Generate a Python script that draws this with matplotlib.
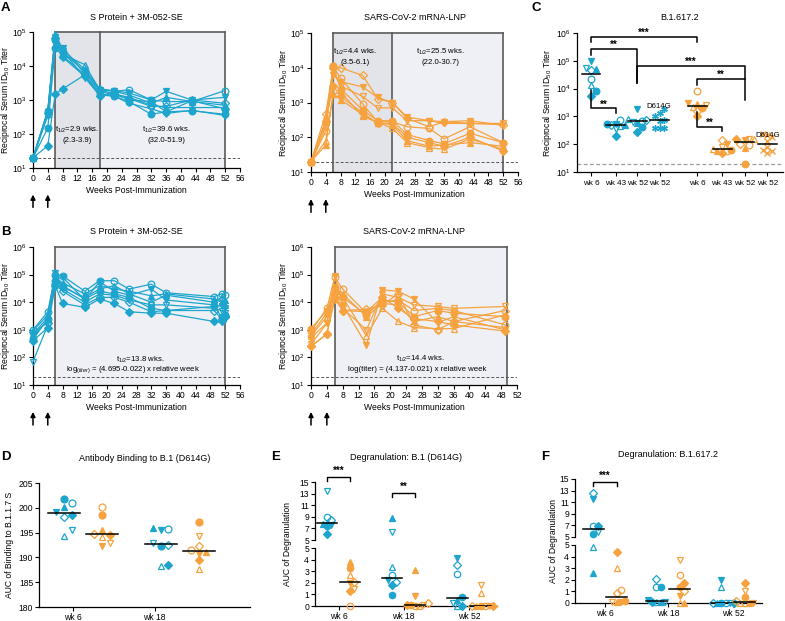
import numpy as np
import matplotlib
matplotlib.use("Agg")
import matplotlib.pyplot as plt
from matplotlib.ticker import NullLocator

plt.rcParams['font.family'] = ['Liberation Sans', 'DejaVu Sans']
plt.rcParams['mathtext.fontset'] = 'custom'
plt.rcParams['mathtext.rm'] = 'Liberation Sans'
plt.rcParams['mathtext.it'] = 'Liberation Sans:italic'
plt.rcParams['mathtext.bf'] = 'Liberation Sans:bold'

BLUE = '#1DA5CE'
ORANGE = '#F6A23F'
W, H = 785, 621
FS = 6.2

# animal symbols, same order in every list below: ● ○ ▲ △ ▼ ▽ ◆ ◇
MARKERS = ['o', 'o', '^', '^', 'v', 'v', 'D', 'D']
FILLED = [True, False, True, False, True, False, True, False]

# ---- A: ID50 titers, first series ----
A_WEEKS = [0, 4, 6, 8, 14, 18, 22, 26, 32, 36, 43, 52]
A_PROTEIN = [
    [20, 150, 35000, 20000, 5500, 1500, 1300, 900, 380, 450, 480, 380],
    [20, 480, 60000, 25000, 7000, 2000, 1800, 2000, 1000, 900, 900, 1900],
    [20, 500, 90000, 30000, 8000, 2200, 1800, 1400, 800, 1200, 900, 700],
    [20, 400, 80000, 22000, 11000, 2000, 1500, 1200, 700, 600, 600, 600],
    [20, 450, 70000, 35000, 6000, 2000, 1900, 1600, 1000, 1800, 1000, 1200],
    [20, 350, 50000, 28000, 4500, 1400, 1300, 800, 550, 400, 500, 350],
    [20, 45, 1500, 2100, 5500, 1300, 1600, 1000, 900, 450, 950, 550],
    [20, 420, 65000, 18000, 5000, 1800, 1400, 1100, 650, 650, 1000, 800],
]
A_MRNA = [
    [20, 280, 11000, 2500, 600, 300, 300, 120, 80, 65, 130, 70],
    [20, 150, 11000, 5000, 900, 280, 280, 200, 180, 90, 200, 70],
    [20, 60, 1800, 1200, 450, 260, 230, 80, 55, 60, 70, 55],
    [20, 80, 1700, 2000, 400, 270, 180, 70, 50, 45, 90, 45],
    [20, 300, 6000, 4000, 2800, 1400, 1000, 380, 300, 280, 300, 220],
    [20, 200, 8000, 3000, 1500, 700, 700, 300, 300, 250, 250, 250],
    [20, 300, 3000, 1500, 500, 250, 250, 100, 70, 55, 100, 40],
    [20, 480, 10000, 10000, 6000, 1300, 1000, 350, 200, 280, 250, 230],
]

# ---- B: ID50 titers, second series ----
B_PROTEIN_WEEKS = [0, 4, 6, 8, 14, 18, 22, 26, 32, 36, 49, 51, 52]
B_PROTEIN = [
    [450, 2500, 60000, 40000, 13000, 25000, 20000, 15000, 6000, 5000, 7000, 3000, 3500],
    [1000, 4500, 100000, 90000, 25000, 60000, 60000, 30000, 45000, 22000, 16000, 20000, 18000],
    [900, 3500, 80000, 50000, 20000, 40000, 30000, 25000, 17000, 20000, 13000, 10000, 12000],
    [700, 2800, 120000, 35000, 15000, 30000, 40000, 20000, 10000, 18000, 10000, 15000, 8000],
    [600, 2200, 70000, 80000, 12000, 55000, 25000, 18000, 30000, 12000, 8000, 7000, 6000],
    [70, 1500, 110000, 30000, 10000, 20000, 18000, 12000, 8000, 8000, 6000, 5000, 4000],
    [400, 1200, 40000, 9000, 6500, 13000, 9000, 4500, 4000, 4000, 2000, 2000, 3200],
    [800, 1800, 45000, 25000, 8000, 15000, 15000, 10000, 4500, 5000, 5000, 2500, 3000],
]
B_MRNA_WEEKS = [0, 4, 6, 8, 14, 18, 22, 26, 32, 36, 49]
B_MRNA = [
    [1100, 5000, 35000, 15000, 3500, 12000, 10000, 3000, 5000, 4000, 3000],
    [900, 6000, 80000, 30000, 4000, 10000, 12000, 5000, 6000, 5000, 1500],
    [700, 4000, 30000, 20000, 3000, 9000, 8000, 2000, 3000, 2000, 1200],
    [600, 3000, 25000, 15000, 600, 6000, 2000, 1200, 1100, 1100, 3500],
    [500, 1800, 90000, 8000, 280, 28000, 25000, 13000, 1800, 3000, 1000],
    [300, 1700, 20000, 6000, 1000, 20000, 15000, 8000, 7000, 6000, 7000],
    [250, 700, 15000, 5000, 4500, 15000, 6000, 2500, 2000, 1500, 900],
    [250, 700, 13000, 5000, 5500, 8000, 20000, 1500, 1000, 2000, 5000],
]

# ---- C: B.1.617.2 neutralization ----
C_LABELS = ['wk 6', 'wk 43', 'wk 52', 'wk 52', 'wk 6', 'wk 43', 'wk 52', 'wk 52']
C_GROUPS = [
    [8500, 23000, 50000, 14000, 95000, 55000, 5500, 45000],
    [550, 750, 500, 450, 550, 350, 200, 480],
    [430, 700, 600, 800, 1900, 650, 280, 750],
    [1900, 1300, 1000, 750, 700, 380, 380, 380],
    [2000, 8000, 2800, 2200, 3000, 2500, 1000, 1600],
    [60, 55, 58, 70, 100, 80, 50, 140],
    [20, 95, 75, 150, 140, 160, 150, 100],
    [240, 220, 180, 130, 80, 60, 55, 50],
]

# ---- D: binding AUC ----
D_LABELS = ['wk 6', 'wk 18']
D_GROUPS = [
    [201.8, 200.9, 200.1, 194.4, 199.2, 195.5, 198.6, 198.1],
    [198.5, 200.1, 195.5, 194.2, 192.3, 193.0, 194.5, 194.8],
    [192.3, 195.7, 196.0, 188.3, 195.5, 193.0, 188.4, 192.6],
    [197.2, 191.4, 191.0, 187.7, 190.7, 194.4, 189.4, 192.2],
]

# ---- E / F: degranulation AUC ----
WK_LABELS = ['wk 6', 'wk 18', 'wk 52']
E_GROUPS = [
    [7.5, 9.0, 7.8, 8.0, 7.6, 13.5, 6.0, 8.4],
    [3.3, 0.0, 3.8, 2.7, 2.0, 1.5, 1.3, 2.1],
    [0.95, 2.7, 8.8, 3.4, 2.2, 6.3, 1.8, 2.1],
    [0.1, 0.0, 3.1, 0.0, 0.9, 0.1, 0.1, 0.3],
    [0.8, 2.8, 0.5, 0.0, 4.1, 0.3, 0.0, 3.5],
    [0.0, 0.0, 0.0, 1.1, 0.0, 1.8, 0.0, 0.0],
]
F_GROUPS = [
    [5.6, 6.9, 2.6, 4.8, 11.6, 5.8, 6.9, 12.6],
    [0.2, 1.1, 0.1, 3.0, 0.1, 0.1, 4.4, 0.9],
    [1.4, 1.35, 0.1, 0.05, 0.3, 0.1, 0.1, 2.1],
    [1.4, 2.4, 0.0, 0.0, 0.6, 3.7, 1.7, 1.0],
    [0.0, 0.0, 0.0, 1.4, 2.0, 0.0, 0.0, 0.0],
    [0.5, 0.0, 0.0, 0.0, 0.0, 1.0, 1.7, 0.2],
]

fig = plt.figure(figsize=(W / 100, H / 100), dpi=100)


def px_axes(l, t, r, b):
    return fig.add_axes([l / W, 1 - b / H, (r - l) / W, (b - t) / H])


def style(ax):
    for s in ('top', 'right'):
        ax.spines[s].set_visible(False)
    for s in ('left', 'bottom'):
        ax.spines[s].set_linewidth(0.9)
    ax.tick_params(direction='out', length=3, width=0.8, labelsize=FS, pad=1.2)


def ylabel_at(ax, text, xpx, ycen=None):
    pos = ax.get_position()
    y = (pos.y0 + pos.y1) / 2 if ycen is None else 1 - ycen / H
    fig.text(xpx / W, y, text, rotation=90, fontsize=FS, ha='center', va='center')


def log_ticks(ax, top):
    ks = range(1, top + 1)
    ax.set_yticks([10.0 ** k for k in ks])
    ax.set_yticklabels([f'$10^{{{k}}}$' for k in ks])
    ax.yaxis.set_minor_locator(NullLocator())


def mstyle(i, color, ms):
    size = ms * 0.8 if MARKERS[i] == 'D' else ms
    return dict(marker=MARKERS[i], ms=size, mec=color, mew=0.9,
                mfc=color if FILLED[i] else 'none')


def letter(x, y, s):
    fig.text(x / W, 1 - y / H, s, fontsize=9.5, fontweight='bold', va='center', ha='left')


def titer_panel(ax, weeks, series, color, xmax, top, spans, ytop_rect, title, ylab_x):
    style(ax)
    ax.set_yscale('log')
    ax.set_ylim(10, 10.0 ** top)
    ax.set_xlim(0, xmax)
    for x0, x1, fc in spans:
        ax.axvspan(x0, x1, ymax=np.log10(ytop_rect / 10) / (top - 1), color=fc, lw=0, zorder=0)
    edges = [spans[0][0]] + [s[1] for s in spans]
    for x in edges:
        ax.plot([x, x], [10, ytop_rect], color='#5a5a5a', lw=1.2, zorder=1, clip_on=False)
    ax.plot([edges[0], edges[-1]], [ytop_rect, ytop_rect], color='#5a5a5a', lw=1.2, zorder=1, clip_on=False)
    ax.axhline(20, color='#555555', lw=0.7, ls=(0, (3, 2)), zorder=1)
    for i, ys in enumerate(series):
        ax.plot(weeks, ys, color=color, lw=0.9, zorder=3, clip_on=False, **mstyle(i, color, 4.8))
    log_ticks(ax, top)
    ax.set_xticks(range(0, xmax + 1, 4))
    ax.set_title(title, fontsize=FS + 0.3, pad=9)
    ax.set_xlabel('Weeks Post-Immunization', fontsize=FS, labelpad=2)
    ylabel_at(ax, 'Reciprocal Serum ID$_{50}$ Titer', ylab_x)
    for x in (0, 4):
        ax.annotate('', xy=(x, -0.175), xytext=(x, -0.31), xycoords=('data', 'axes fraction'),
                    textcoords=('data', 'axes fraction'),
                    arrowprops=dict(arrowstyle='-|>', color='black', lw=1.1, mutation_scale=7))


def swarm(vals, step, thresh, maxp=2):
    """Column-scatter offsets: spread points that would sit on top of each other."""
    vals = np.asarray(vals, float)
    offs = np.zeros(len(vals))
    placed = []
    cands = [0]
    for k in range(1, maxp + 1):
        cands += [k, -k]
    for i in np.argsort(vals):
        best, best_gap = 0, -1.0
        for p in cands:
            gaps = [abs(vals[i] - vals[j]) for j, q in placed if abs(p - q) < 1]
            gap = min(gaps) if gaps else np.inf
            if gap >= thresh:
                best = p
                break
            if gap > best_gap:
                best, best_gap = p, gap
        placed.append((i, best))
        offs[i] = best * step
    return offs


def scatter_group(ax, x, vals, color, step, thresh, ms, tvals=None, marker=None, mwidth=0.4, maxp=2):
    tv = vals if tvals is None else tvals
    offs = swarm(tv, step, thresh, maxp)
    for i, v in enumerate(vals):
        if marker is None:
            ax.plot(x + offs[i], v, ls='none', zorder=3, clip_on=False, **mstyle(i, color, ms))
        else:
            ax.plot(x + offs[i], v, ls='none', marker=marker, ms=ms, mec=color, mew=1.0,
                    mfc=color, zorder=3, clip_on=False)
    med = np.median(vals)
    ax.plot([x - mwidth, x + mwidth], [med, med], color='black', lw=1.1, zorder=4)


def bracket(ax, x0, x1, y, d0, d1, text, ty):
    ax.plot([x0, x0, x1, x1], [d0, y, y, d1], color='black', lw=1.1, clip_on=False, zorder=5)
    ax.text((x0 + x1) / 2, ty, text, ha='center', va='center', fontsize=7, fontweight='bold')


# ---------------- A ----------------
axA1 = px_axes(33, 32, 240, 168)
titer_panel(axA1, A_WEEKS, A_PROTEIN, BLUE, 56, 5,
            [(6, 18, '#e2e4e9'), (18, 52, '#eef0f5')], 1e5, 'S Protein + 3M-052-SE', 6)
axA1.text(12, 10 ** 2.13, 't$_{1/2}$=2.9 wks.', ha='center', va='center', fontsize=5.6)
axA1.text(12, 10 ** 1.82, '(2.3-3.9)', ha='center', va='center', fontsize=5.6)
axA1.text(36, 10 ** 2.13, 't$_{1/2}$=39.6 wks.', ha='center', va='center', fontsize=5.6)
axA1.text(36, 10 ** 1.82, '(32.0-51.9)', ha='center', va='center', fontsize=5.6)

axA2 = px_axes(311, 33, 518, 172)
titer_panel(axA2, A_WEEKS, A_MRNA, ORANGE, 56, 5,
            [(6, 22, '#e2e4e9'), (22, 52, '#eef0f5')], 1e5, 'SARS-CoV-2 mRNA-LNP', 283)
axA2.text(12, 10 ** 4.45, 't$_{1/2}$=4.4 wks.', ha='center', va='center', fontsize=5.6)
axA2.text(12, 10 ** 4.14, '(3.5-6.1)', ha='center', va='center', fontsize=5.6)
axA2.text(35, 10 ** 4.45, 't$_{1/2}$=25.5 wks.', ha='center', va='center', fontsize=5.6)
axA2.text(35, 10 ** 4.14, '(22.0-30.7)', ha='center', va='center', fontsize=5.6)

# ---------------- B ----------------
axB1 = px_axes(33, 247, 240, 385)
titer_panel(axB1, B_PROTEIN_WEEKS, B_PROTEIN, BLUE, 56, 6,
            [(6, 52, '#eef0f5')], 1e6, 'S Protein + 3M-052-SE', 6)
axB1.text(29, 10 ** 1.92, 't$_{1/2}$=13.8 wks.', ha='center', va='center', fontsize=5.6)
axB1.text(27, 10 ** 1.57, 'log$_{(titer)}$ = (4.695-0.022) x relative week', ha='center', va='center', fontsize=5.6)

axB2 = px_axes(311, 247, 517, 385)
titer_panel(axB2, B_MRNA_WEEKS, B_MRNA, ORANGE, 52, 6,
            [(6, 49.5, '#eef0f5')], 1e6, 'SARS-CoV-2 mRNA-LNP', 283)
axB2.text(27.5, 10 ** 1.94, 't$_{1/2}$=14.4 wks.', ha='center', va='center', fontsize=5.6)
axB2.text(26.8, 10 ** 1.55, 'log(titer) = (4.137-0.021) x relative week', ha='center', va='center', fontsize=5.6)

# ---------------- C ----------------
axC = px_axes(577, 33, 783, 172)
style(axC)
axC.set_yscale('log')
axC.set_ylim(10, 1e6)
log_ticks(axC, 6)
c_pos = [0, 1.1, 2.05, 3.05, 4.7, 5.8, 6.8, 7.8]
axC.set_xlim(-0.62, 8.5)
axC.axhline(20, color='#9a9a9a', lw=0.9, ls=(0, (3, 2)), zorder=1)
for k, vals in enumerate(C_GROUPS):
    col = BLUE if k < 4 else ORANGE
    mk = None if k not in (3, 7) else ((6, 2, 0) if k == 3 else 'x')
    scatter_group(axC, c_pos[k], vals, col, 0.2, 0.2, 4.8, tvals=np.log10(vals),
                  marker=mk, mwidth=0.42, maxp=2)
axC.text(3.0, 1700, 'D614G', ha='center', va='bottom', fontsize=5.6)
axC.text(7.8, 150, 'D614G', ha='center', va='bottom', fontsize=5.6)
axC.set_xticks(c_pos)
axC.set_xticklabels(C_LABELS)
axC.tick_params(axis='x', labelsize=5.9, pad=3)
axC.set_title('B.1.617.2', fontsize=FS + 0.3, pad=9)
ylabel_at(axC, 'Reciprocal Serum ID$_{50}$ Titer', 547)
bracket(axC, c_pos[0], c_pos[4], 10 ** 5.86, 10 ** 5.66, 10 ** 5.66, '***', 10 ** 6.02)
bracket(axC, c_pos[0], c_pos[2], 10 ** 5.42, 10 ** 5.22, 10 ** 4.19, '**', 10 ** 5.56)
bracket(axC, c_pos[2], c_pos[6], 10 ** 4.83, 10 ** 4.19, 10 ** 3.59, '***', 10 ** 4.97)
bracket(axC, c_pos[4], c_pos[6], 10 ** 4.35, 10 ** 4.13, 10 ** 4.35, '**', 10 ** 4.49)
bracket(axC, c_pos[0], c_pos[1], 10 ** 3.29, 10 ** 3.95, 10 ** 3.13, '**', 10 ** 3.43)
bracket(axC, c_pos[4], c_pos[5], 10 ** 2.63, 10 ** 3.17, 10 ** 2.48, '**', 10 ** 2.77)

# ---------------- D ----------------
axD = px_axes(39, 483, 250, 607)
style(axD)
axD.set_ylim(180, 205)
axD.set_yticks(range(180, 206, 5))
d_pos = [0, 1, 2.55, 3.55]
axD.set_xlim(-0.66, 4.9)
for k, vals in enumerate(D_GROUPS):
    scatter_group(axD, d_pos[k], vals, BLUE if k % 2 == 0 else ORANGE, 0.2, 1.1, 5,
                  mwidth=0.42, maxp=2)
axD.set_xticks([0.24, 2.39])
axD.set_xticklabels(D_LABELS)
axD.set_title('Antibody Binding to B.1 (D614G)', fontsize=FS + 0.3, pad=16)
ylabel_at(axD, 'AUC of Binding to B.1.1.7 S', 10)


# ---------------- E / F ----------------
def degran_panel(l, r, tu, bu, tl, bl, groups, centers_px, title, brackets, ylab_x):
    up = px_axes(l, tu, r, bu)
    lo = px_axes(l, tl, r, bl)
    style(up)
    style(lo)
    up.spines['bottom'].set_visible(False)
    up.set_xticks([])
    up.set_ylim(5, 15)
    up.set_yticks(range(5, 16, 2))
    lo.set_ylim(0, 5)
    lo.set_yticks(range(0, 6))
    unit = 64.0
    c0 = centers_px[0]
    centers = [(c - c0) / unit for c in centers_px]
    xl = ((l - c0) / unit, (r - c0) / unit)
    up.set_xlim(*xl)
    lo.set_xlim(*xl)
    for k, vals in enumerate(groups):
        x = centers[k // 2] + (-0.18 if k % 2 == 0 else 0.18)
        col = BLUE if k % 2 == 0 else ORANGE
        vals = np.asarray(vals)
        offs = swarm(vals, 0.065, 0.45, maxp=3)
        for i, v in enumerate(vals):
            ax = up if v > 5 else lo
            ax.plot(x + offs[i], v, ls='none', zorder=3, clip_on=False, **mstyle(i, col, 4.6))
        med = np.median(vals)
        ax = up if med > 5 else lo
        ax.plot([x - 0.16, x + 0.16], [med, med], color='black', lw=1.1, zorder=4)
    lo.set_xticks(centers)
    lo.set_xticklabels(WK_LABELS)
    up.set_title(title, fontsize=FS + 0.3, pad=16)
    ylabel_at(up, 'AUC of Degranulation', ylab_x, (tu + bl) / 2)
    for g, y, txt in brackets:
        x0 = centers[g] - 0.18
        x1 = centers[g] + 0.18
        up.plot([x0, x0, x1, x1], [y - 0.7, y, y, y - 0.7], color='black', lw=1.0, clip_on=False)
        up.text((x0 + x1) / 2, y + 1.0, txt, ha='center', va='center', fontsize=7, fontweight='bold')
    return up, lo


degran_panel(315, 497, 482, 540, 548, 606, E_GROUPS, [338.5, 403.5, 469],
             'Degranulation: B.1 (D614G)', [(0, 15.85, '***'), (1, 13.1, '**')], 287)
degran_panel(575, 762, 479, 537, 545, 603, F_GROUPS, [605, 668, 733],
             'Degranulation: B.1.617.2', [(0, 14.5, '***')], 553)

letter(1, 8, 'A')
letter(1, 232, 'B')
letter(531, 8, 'C')
letter(1, 457, 'D')
letter(271, 457, 'E')
letter(541, 457, 'F')

fig.savefig('out.png', dpi=100)
